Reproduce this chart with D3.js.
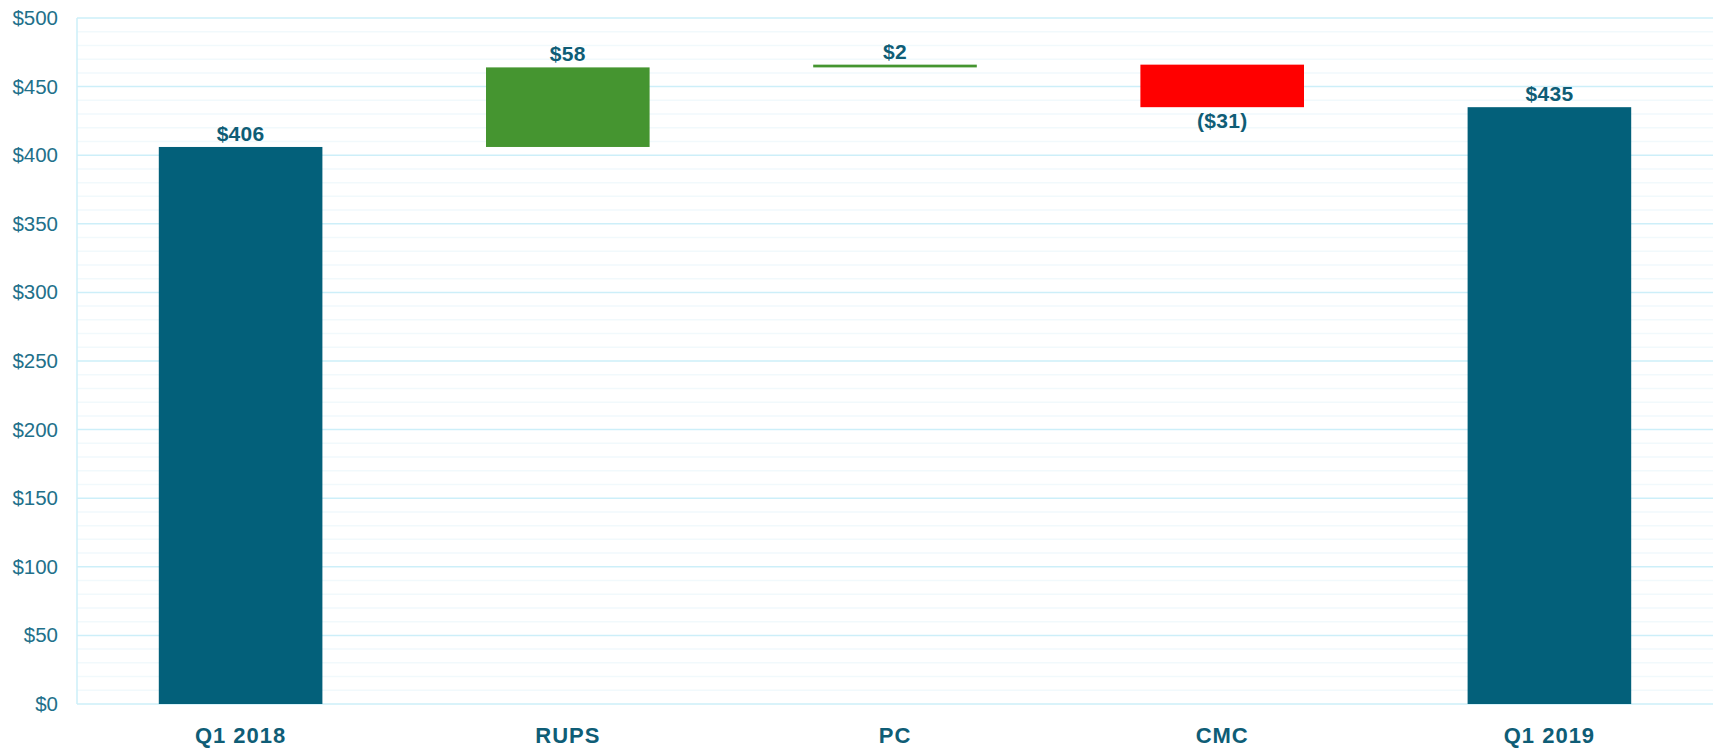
<!DOCTYPE html>
<html>
<head>
<meta charset="utf-8">
<script src="https://cdn.jsdelivr.net/npm/d3@7"></script>
<style>
  html, body { margin: 0; padding: 0; background: #ffffff; }
  svg { display: block; }
</style>
</head>
<body>
<svg id="chart" width="1713" height="748"></svg>
<script>
// ---- data ----
const categories = ["Q1 2018", "RUPS", "PC", "CMC", "Q1 2019"];
const values = [406, 58, 2, -31, 435];
const kinds = ["total", "delta", "delta", "delta", "total"];
const valueLabels = ["$406", "$58", "$2", "($31)", "$435"];
const yTicks = [0, 50, 100, 150, 200, 250, 300, 350, 400, 450, 500];
const yTickLabels = ["$0", "$50", "$100", "$150", "$200", "$250", "$300", "$350", "$400", "$450", "$500"];
const minorTicks = d3.range(0, 501, 10);

// ---- layout ----
const W = 1713, H = 748;
const margin = { top: 18, right: 0, bottom: 44, left: 77 };
const svg = d3.select("#chart");

const x = d3.scaleBand()
  .domain(categories)
  .range([margin.left, W - margin.right])
  .paddingInner(0.5)
  .paddingOuter(0.25);

const y = d3.scaleLinear()
  .domain([0, 500])
  .range([H - margin.bottom, margin.top]);

const colors = { total: "#03607a", up: "#459530", down: "#ff0000" };
const textColor = "#0f5d76";
const tickColor = "#22708a";

// minor grid
svg.append("g").selectAll("line")
  .data(minorTicks.filter(v => v % 50 !== 0))
  .join("line")
  .attr("x1", margin.left).attr("x2", W - margin.right)
  .attr("y1", d => y(d)).attr("y2", d => y(d))
  .attr("stroke", "#f1f9fc").attr("stroke-width", 1.5);

// major grid
svg.append("g").selectAll("line")
  .data(yTicks)
  .join("line")
  .attr("x1", margin.left).attr("x2", W - margin.right)
  .attr("y1", d => y(d)).attr("y2", d => y(d))
  .attr("stroke", "#cdeff9").attr("stroke-width", 1.5);

// left axis line
svg.append("line")
  .attr("x1", margin.left).attr("x2", margin.left)
  .attr("y1", y(500)).attr("y2", y(0))
  .attr("stroke", "#cdeff9").attr("stroke-width", 1.5);

// y axis labels
const yAxis = d3.axisLeft(y).tickValues(yTicks)
  .tickFormat((d, i) => yTickLabels[i]).tickSize(0).tickPadding(19);
const gy = svg.append("g").attr("transform", `translate(${margin.left},0)`).call(yAxis);
gy.select(".domain").remove();
gy.selectAll("text")
  .attr("fill", tickColor)
  .style("font-family", "'Liberation Sans', Arial, sans-serif")
  .style("font-size", "20.5px");

// x axis labels
const xAxis = d3.axisBottom(x).tickSize(0).tickPadding(0);
const gx = svg.append("g").attr("transform", `translate(0,${H - margin.bottom})`).call(xAxis);
gx.select(".domain").remove();
gx.selectAll("text")
  .attr("y", 39).attr("dy", null)
  .attr("fill", textColor)
  .style("font-family", "'Liberation Sans', Arial, sans-serif")
  .style("font-weight", "bold")
  .style("font-size", "22px")
  .style("letter-spacing", "1px");

// ---- waterfall computation ----
let running = 0;
const bars = categories.map((c, i) => {
  let lo, hi, color;
  if (kinds[i] === "total") {
    lo = 0; hi = values[i]; running = values[i]; color = colors.total;
  } else {
    const start = running, end = running + values[i];
    lo = Math.min(start, end); hi = Math.max(start, end);
    running = end;
    color = values[i] >= 0 ? colors.up : colors.down;
  }
  return { cat: c, lo, hi, color, value: values[i], label: valueLabels[i] };
});

svg.append("g").selectAll("rect")
  .data(bars)
  .join("rect")
  .attr("x", d => x(d.cat))
  .attr("width", x.bandwidth())
  .attr("y", d => y(d.hi))
  .attr("height", d => Math.max(2.5, y(d.lo) - y(d.hi)))
  .attr("fill", d => d.color);

svg.append("g").selectAll("text")
  .data(bars)
  .join("text")
  .attr("x", d => x(d.cat) + x.bandwidth() / 2)
  .attr("y", d => d.value >= 0 ? y(d.hi) - 6 : y(d.lo) + 21)
  .attr("text-anchor", "middle")
  .attr("fill", textColor)
  .style("font-family", "'Liberation Sans', Arial, sans-serif")
  .style("font-weight", "bold")
  .style("font-size", "21px")
  .style("letter-spacing", "0.3px")
  .text(d => d.label);
</script>
</body>
</html>
